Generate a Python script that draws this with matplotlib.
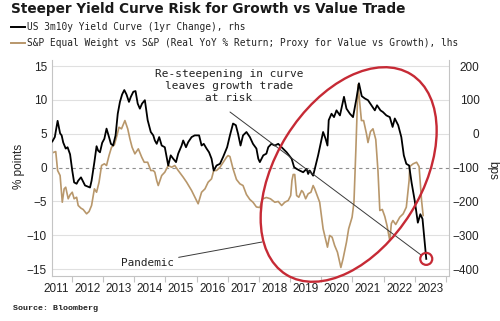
import numpy as np
import matplotlib
matplotlib.use("Agg")
import matplotlib.pyplot as plt
from matplotlib.patches import Ellipse, Circle
from matplotlib.lines import Line2D
from matplotlib.transforms import IdentityTransform

# US 3m10y yield curve, 1yr change (bps, right axis)
curve_years = [2011.37, 2011.45, 2011.54, 2011.62, 2011.67, 2011.72, 2011.80, 2011.86, 2011.94,
               2012.01, 2012.07, 2012.15, 2012.20, 2012.29, 2012.36, 2012.42, 2012.50, 2012.58,
               2012.63, 2012.72, 2012.79, 2012.84, 2012.90, 2012.97, 2013.04, 2013.11, 2013.19,
               2013.25, 2013.32, 2013.40, 2013.47, 2013.54, 2013.61, 2013.68, 2013.75, 2013.83,
               2013.89, 2013.97, 2014.04, 2014.11, 2014.18, 2014.25, 2014.34, 2014.43, 2014.53,
               2014.61, 2014.66, 2014.72, 2014.80, 2014.88, 2014.98, 2015.09, 2015.17, 2015.25,
               2015.34, 2015.41, 2015.52, 2015.57, 2015.66, 2015.73, 2015.84, 2015.94, 2016.08,
               2016.16, 2016.23, 2016.32, 2016.40, 2016.48, 2016.55, 2016.64, 2016.75, 2016.85,
               2016.98, 2017.07, 2017.17, 2017.26, 2017.33, 2017.41, 2017.49, 2017.60, 2017.71,
               2017.81, 2017.92, 2017.98, 2018.03, 2018.14, 2018.24, 2018.30, 2018.40, 2018.51,
               2018.62, 2018.73, 2018.89, 2019.05, 2019.13, 2019.21, 2019.31, 2019.42, 2019.53,
               2019.58, 2019.63, 2019.74, 2019.82, 2019.90, 2019.99, 2020.06, 2020.14, 2020.20,
               2020.24, 2020.33, 2020.41, 2020.49, 2020.60, 2020.67, 2020.73, 2020.81, 2020.92,
               2021.02, 2021.13, 2021.21, 2021.30, 2021.40, 2021.50, 2021.61, 2021.72, 2021.79,
               2021.90, 2021.98, 2022.09, 2022.20, 2022.29, 2022.36, 2022.47, 2022.57, 2022.65,
               2022.73, 2022.82, 2022.90, 2023.00, 2023.10, 2023.18, 2023.25, 2023.32, 2023.37]
curve_bps = [-23, -10, 38, 1, -5, -26, -44, -40, -61,
             -109, -144, -148, -139, -129, -142, -153, -156, -159,
             -139, -84, -37, -50, -55, -27, -15, 15, -10,
             -30, -35, -5, 59, 94, 116, 129, 116, 94,
             109, 124, 126, 89, 74, 89, 99, 40, 5,
             -5, -20, -30, -10, -35, -40, -94, -64, -74,
             -84, -59, -35, -20, -40, -25, -10, -5, -5,
             -35, -30, -44, -55, -74, -109, -94, -89, -69,
             -40, -5, 30, 25, 0, -35, -5, 5, -10,
             -30, -44, -74, -84, -64, -59, -40, -30, -35,
             -30, -40, -55, -74, -99, -104, -109, -114, -104,
             -119, -109, -124, -94, -64, -25, 5, -15, -35,
             40, 59, 49, 69, 54, 84, 109, 74, 59,
             49, 104, 149, 111, 104, 99, 84, 69, 84,
             69, 64, 54, 49, 20, 45, 25, -10, -64,
             -89, -94, -145, -198, -263, -238, -252, -322, -370]

# S&P equal weight vs S&P, real YoY % return (left axis)
ew_years = [2011.37, 2011.48, 2011.54, 2011.62, 2011.69, 2011.75, 2011.80, 2011.88, 2011.94,
            2012.01, 2012.07, 2012.15, 2012.20, 2012.29, 2012.36, 2012.47, 2012.55, 2012.63,
            2012.72, 2012.79, 2012.87, 2012.95, 2013.04, 2013.11, 2013.19, 2013.27, 2013.36,
            2013.43, 2013.51, 2013.59, 2013.70, 2013.79, 2013.86, 2013.93, 2014.02, 2014.13,
            2014.24, 2014.32, 2014.43, 2014.53, 2014.61, 2014.66, 2014.72, 2014.77, 2014.88,
            2014.98, 2015.09, 2015.20, 2015.30, 2015.41, 2015.57, 2015.68, 2015.84, 2016.00,
            2016.05, 2016.16, 2016.27, 2016.37, 2016.48, 2016.55, 2016.64, 2016.75, 2016.85,
            2016.96, 2017.01, 2017.07, 2017.17, 2017.28, 2017.39, 2017.49, 2017.60, 2017.71,
            2017.81, 2017.92, 2018.03, 2018.12, 2018.24, 2018.37, 2018.51, 2018.62, 2018.73,
            2018.83, 2018.94, 2019.02, 2019.06, 2019.10, 2019.15, 2019.21, 2019.28, 2019.37,
            2019.42, 2019.50, 2019.58, 2019.67, 2019.74, 2019.79, 2019.85, 2019.95, 2020.06,
            2020.11, 2020.20, 2020.27, 2020.35, 2020.43, 2020.52, 2020.63, 2020.70, 2020.81,
            2020.88, 2020.99, 2021.05, 2021.11, 2021.18, 2021.29, 2021.36, 2021.45, 2021.50,
            2021.58, 2021.66, 2021.75, 2021.82, 2021.88, 2021.96, 2022.04, 2022.11, 2022.20,
            2022.25, 2022.30, 2022.39, 2022.46, 2022.52, 2022.63, 2022.73, 2022.82, 2022.84,
            2022.95, 2023.06, 2023.14, 2023.22, 2023.27]
ew_ret = [2.17, 2.36, -0.44, -1.18, -5.13, -3.15, -2.91, -4.62, -4.03,
          -3.65, -4.62, -4.39, -5.61, -6.01, -6.20, -6.84, -6.50, -5.61,
          -3.15, -3.65, -2.17, 0.30, 0.55, 0.30, 1.77, 3.00, 3.35,
          4.48, 5.95, 5.72, 6.94, 5.72, 4.24, 3.00, 2.02, 2.76,
          1.52, 0.78, 0.78, -0.44, -0.44, -0.69, -1.92, -2.66, -1.18,
          -0.69, 0.30, 0.04, 0.30, -0.44, -1.43, -2.17, -3.40, -4.87,
          -5.36, -3.65, -3.15, -2.17, -1.67, -0.44, -0.44, 0.04, 0.74,
          1.52, 1.77, 1.62, -0.19, -1.77, -2.41, -2.66, -3.99, -4.73,
          -5.13, -5.83, -5.91, -4.62, -4.43, -4.62, -5.13, -5.02, -5.61,
          -5.13, -4.87, -4.14, -1.92, -1.03, -1.03, -4.14, -4.39, -3.40,
          -3.65, -4.62, -3.88, -3.65, -2.66, -3.15, -3.88, -5.13, -9.05,
          -10.04, -11.77, -10.04, -10.30, -11.52, -12.51, -14.77, -13.49, -11.03,
          -9.05, -7.34, -5.13, 2.51, 12.26, 6.94, 6.94, 5.02, 3.69,
          5.32, 5.72, 4.14, -0.44, -6.35, -6.20, -7.24, -8.57, -10.78,
          -8.27, -7.83, -8.42, -7.83, -7.34, -6.84, -5.86, -1.92, 0.15,
          0.55, 0.78, 0.15, -4.87, -7.09]

left_ticks = [-15, -10, -5, 0, 5, 10, 15]
right_ticks = [-400, -300, -200, -100, 0, 100, 200]
year_labels = [str(y) for y in range(2011, 2024)]

title = "Steeper Yield Curve Risk for Growth vs Value Trade"
curve_name = "US 3m10y Yield Curve (1yr Change), rhs"
ew_name = "S&P Equal Weight vs S&P (Real YoY % Return; Proxy for Value vs Growth), lhs"

TAN = "#b8976b"
RED = "#c62a35"
GRID = "#e0e0e0"
SPINE = "#c4c4c4"

plt.rcParams["font.family"] = ["Liberation Sans", "DejaVu Sans"]
W, H = 500, 321
fig = plt.figure(figsize=(W / 100, H / 100), dpi=100)
ax = fig.add_axes([52 / W, 1 - 276 / H, 397 / W, 216 / H])
ax2 = ax.twinx()

ax.set_xlim(2011.36, 2024.1)
ax.set_ylim(-16.03, 15.89)
ax2.set_ylim(-16.03 * 20 - 100, 15.89 * 20 - 100)

for v in left_ticks:
    if v == 0:
        ax.axhline(v, color="#8f8f8f", lw=0.8, ls=(0, (3, 3)), zorder=0)
    else:
        ax.axhline(v, color=GRID, lw=0.8, zorder=0)

ax.plot(ew_years, ew_ret, color=TAN, lw=1.2, zorder=2)
ax2.plot(curve_years, curve_bps, color="black", lw=1.3, zorder=3)

# axes styling
for a in (ax, ax2):
    a.spines["top"].set_visible(False)
ax.spines["right"].set_visible(False)
ax2.spines["left"].set_visible(False)
ax2.spines["bottom"].set_visible(False)
for s in ("left", "bottom"):
    ax.spines[s].set_color(SPINE)
    ax.spines[s].set_linewidth(0.8)
ax2.spines["right"].set_color(SPINE)
ax2.spines["right"].set_linewidth(0.8)

ax.set_yticks(left_ticks)
ax.tick_params(axis="y", length=0, pad=3.6, labelsize=8.5, labelcolor="#222222")
ax2.set_yticks(right_ticks)
ax2.tick_params(axis="y", length=0, pad=22, labelsize=8.5, labelcolor="#222222")
for lab in ax2.get_yticklabels():
    lab.set_horizontalalignment("right")

ax.set_xticks(range(2012, 2025))
ax.set_xticklabels([""] * 13)
ax.set_xticks([y + 0.5 for y in range(2011, 2024)], minor=True)
ax.set_xticklabels(year_labels, minor=True)
ax.tick_params(axis="x", which="major", length=4, color=SPINE, width=0.8)
ax.tick_params(axis="x", which="minor", length=0, pad=5, labelsize=8.5, labelcolor="#222222")

# header, legend, labels
fig.text(11 / W, 1 - 9.5 / H, title, ha="left", va="center", fontsize=9.8,
         fontweight="bold", family="DejaVu Sans", color="#1a1a1a")
for yy, col, name in ((27, "black", curve_name), (43, TAN, ew_name)):
    fig.add_artist(Line2D([11 / W, 25 / W], [1 - yy / H] * 2, color=col, lw=1.4,
                          transform=fig.transFigure))
    fig.text(27 / W, 1 - yy / H, name, ha="left", va="center", fontsize=6.85,
             family="DejaVu Sans Mono", color="#222222")

fig.text(19 / W, 1 - 166 / H, "% points", rotation=90, ha="center", va="center",
         fontsize=8.5, color="#222222")
fig.text(492 / W, 1 - 170 / H, "bps", rotation=270, ha="center", va="center",
         fontsize=8.5, color="#222222")
fig.text(13 / W, 1 - 308 / H, "Source: Bloomberg", ha="left", va="center", fontsize=6,
         family="Liberation Mono", fontweight="bold", color="#222222")

# annotations
fig.text(229 / W, 1 - 86 / H, "Re-steepening in curve\nleaves growth trade\nat risk",
         ha="center", va="center", fontsize=8, family="DejaVu Sans Mono",
         linespacing=1.2, color="#222222")
ax2.annotate("", xy=(curve_years[-1], curve_bps[-1]), xycoords="data",
             xytext=(230, H - 112), textcoords="figure pixels",
             arrowprops=dict(arrowstyle="-", color="#3a3a3a", lw=0.7,
                             shrinkA=0, shrinkB=4.5))

ax.annotate("Pandemic", xy=(262, H - 242), xycoords="figure pixels",
            xytext=(148, H - 263), textcoords="figure pixels",
            ha="center", va="center", fontsize=7.9, family="DejaVu Sans Mono",
            color="#222222",
            arrowprops=dict(arrowstyle="-", color="#3a3a3a", lw=0.7,
                            shrinkA=1, shrinkB=0))

# red highlight around the post-2018 period and the latest reading
ex, ey = ax.transData.transform((2020.88, -1.03))
fig.add_artist(Ellipse((ex, ey), 236, 146, angle=58, fill=False, ec=RED, lw=1.7,
                       transform=IdentityTransform(), zorder=5))
cx, cy = ax2.transData.transform((curve_years[-1], curve_bps[-1]))
fig.add_artist(Circle((cx, cy), 6, fill=False, ec=RED, lw=1.6,
                      transform=IdentityTransform(), zorder=5))

fig.savefig("out.png", dpi=100)
